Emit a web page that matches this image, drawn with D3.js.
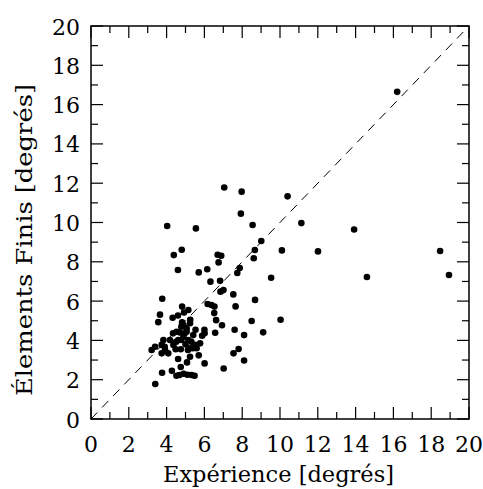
<!DOCTYPE html>
<html>
<head>
<meta charset="utf-8">
<script src="https://cdn.jsdelivr.net/npm/d3@7"></script>
<style>
  html, body { margin: 0; padding: 0; background: #fff; }
  svg text { font-family: "DejaVu Serif", "Liberation Serif", serif; fill: #000; }
</style>
</head>
<body>
<svg id="chart" width="483" height="489"></svg>
<script>
// Expérience (x) values
const expX = [
  16.2, 7.05, 7.97, 10.4, 7.93, 11.13, 4.03, 5.55, 8.55, 13.92,
  9.01, 4.80, 4.38, 6.70, 6.89, 8.67, 10.1, 12.01, 18.47, 8.61,
  6.75, 4.60, 6.15, 5.70, 7.87, 7.74, 9.53, 14.6, 18.94, 6.32,
  6.83, 6.85, 7.01, 7.53, 3.77, 8.68, 6.17, 6.37, 6.53, 7.65,
  4.82, 6.52, 3.65, 4.92, 4.60, 4.32, 3.56, 5.25, 6.62, 8.50,
  10.03, 6.93, 4.82, 7.60, 9.11, 6.57, 8.10, 6.00, 5.88, 7.54,
  7.81, 8.10, 6.01, 7.02, 3.76, 4.28, 4.52, 4.68, 4.90, 5.10,
  5.32, 5.48, 3.40, 4.75, 5.08, 4.61, 5.70, 5.24, 5.15,
  3.21, 3.39, 3.74, 3.74, 3.83, 3.92, 3.90, 4.09, 4.18, 4.36,
  4.48, 4.62, 4.51, 4.70, 4.89, 4.75, 5.00, 5.06, 4.96, 5.15,
  5.24, 5.13, 5.41, 5.50, 5.59, 5.40, 5.77, 4.89, 5.06, 5.24,
  5.53, 4.53, 4.34, 4.78, 5.31, 4.78, 6.01
];
// Éléments Finis (y) values
const feY = [
  16.65, 11.78, 11.57, 11.33, 10.45, 9.97, 9.82, 9.70, 9.87, 9.64,
  9.06, 8.61, 8.34, 8.36, 8.31, 8.60, 8.58, 8.53, 8.55, 8.18,
  7.97, 7.58, 7.62, 7.46, 7.68, 7.43, 7.19, 7.23, 7.33, 6.99,
  7.03, 6.48, 6.56, 6.34, 6.12, 6.06, 5.85, 5.80, 5.72, 5.73,
  5.72, 5.39, 5.31, 5.42, 5.27, 5.15, 4.93, 5.05, 5.03, 4.99,
  5.05, 4.77, 4.92, 4.54, 4.41, 4.39, 4.27, 4.54, 4.24, 3.34,
  3.56, 2.98, 2.83, 2.57, 2.35, 2.45, 2.20, 2.24, 2.30, 2.25,
  2.24, 2.20, 1.78, 2.65, 2.88, 3.05, 3.24, 3.17, 5.55,
  3.51, 3.68, 3.77, 3.34, 4.02, 3.51, 3.68, 3.34, 4.02, 3.77,
  3.55, 4.02, 3.93, 4.40, 4.19, 3.55, 3.80, 4.44, 4.36, 4.02,
  3.60, 3.51, 4.27, 3.77, 3.60, 3.60, 3.85, 4.78, 4.61, 4.87,
  4.54, 4.44, 4.36, 4.70, 3.93, 4.02, 4.36
];
const xTicks = [0, 2, 4, 6, 8, 10, 12, 14, 16, 18, 20];
const yTicks = [0, 2, 4, 6, 8, 10, 12, 14, 16, 18, 20];
const minorTicks = d3.range(0, 21, 1);
const xTitle = "Expérience [degrés]";
const yTitle = "Élements Finis [degrés]";

const mLeft = 91, mRight = 469, mTop = 26, mBottom = 419;
const svg = d3.select("#chart");
const x = d3.scaleLinear().domain([0, 20]).range([mLeft, mRight]);
const y = d3.scaleLinear().domain([0, 20]).range([mBottom, mTop]);

const pts = expX.map((v, i) => ({ x: v, y: feY[i] }));

// diagonal dashed line
svg.append("line")
  .attr("x1", x(0)).attr("y1", y(0))
  .attr("x2", x(20)).attr("y2", y(20))
  .attr("stroke", "#000").attr("stroke-width", 1)
  .attr("stroke-dasharray", "9,7");

// points
svg.append("g").selectAll("circle").data(pts).join("circle")
  .attr("cx", d => x(d.x)).attr("cy", d => y(d.y))
  .attr("r", 3.3).attr("fill", "#000");

// ticks (inward on all sides)
const tg = svg.append("g").attr("stroke", "#000").attr("stroke-width", 1.2);
minorTicks.forEach(v => {
  const len = v % 2 === 0 ? 12 : 7;
  tg.append("line").attr("x1", x(v)).attr("x2", x(v)).attr("y1", mBottom).attr("y2", mBottom - len);
  tg.append("line").attr("x1", x(v)).attr("x2", x(v)).attr("y1", mTop).attr("y2", mTop + len);
  tg.append("line").attr("y1", y(v)).attr("y2", y(v)).attr("x1", mLeft).attr("x2", mLeft + len);
  tg.append("line").attr("y1", y(v)).attr("y2", y(v)).attr("x1", mRight).attr("x2", mRight - len);
});

// frame
svg.append("rect")
  .attr("x", mLeft).attr("y", mTop)
  .attr("width", mRight - mLeft).attr("height", mBottom - mTop)
  .attr("fill", "none").attr("stroke", "#000").attr("stroke-width", 1.5);

// tick labels
svg.append("g").selectAll("text").data(xTicks).join("text")
  .attr("x", d => x(d)).attr("y", 452)
  .attr("text-anchor", "middle").attr("font-size", 22)
  .text(d => d);
svg.append("g").selectAll("text").data(yTicks).join("text")
  .attr("x", 80).attr("y", d => y(d) + 8.5)
  .attr("text-anchor", "end").attr("font-size", 22)
  .text(d => d);

// axis titles
svg.append("text")
  .attr("x", (163 + 394) / 2).attr("y", 482)
  .attr("text-anchor", "middle").attr("font-size", 22)
  .attr("textLength", 231).attr("lengthAdjust", "spacingAndGlyphs")
  .text(xTitle);
svg.append("text")
  .attr("transform", "translate(32,240) rotate(-90)")
  .attr("text-anchor", "middle").attr("font-size", 22)
  .attr("textLength", 312).attr("lengthAdjust", "spacingAndGlyphs")
  .text(yTitle);
</script>
</body>
</html>
